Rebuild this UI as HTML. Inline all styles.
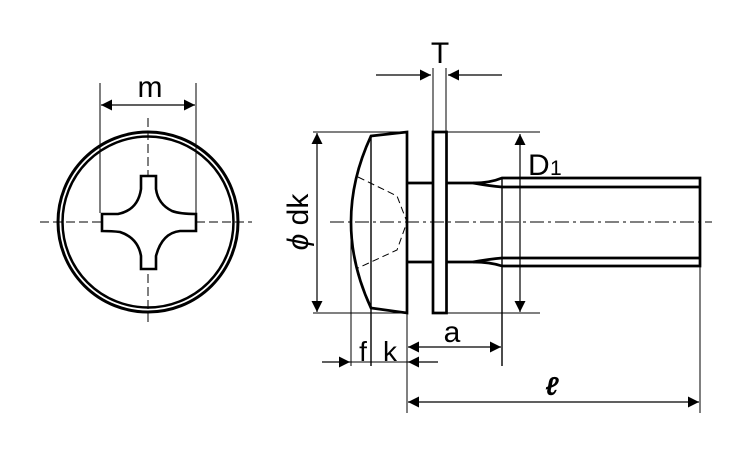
<!DOCTYPE html>
<html><head><meta charset="utf-8"><style>html,body{margin:0;padding:0;background:#fff}svg{display:block}</style></head>
<body>
<svg width="750" height="450" viewBox="0 0 750 450" xmlns="http://www.w3.org/2000/svg">
<defs>
<marker id="ah" viewBox="0 0 10 10" refX="10" refY="5" markerWidth="20" markerHeight="11" markerUnits="userSpaceOnUse" orient="auto-start-reverse"><path d="M0,0 L10,5 L0,10 z" fill="#000"/></marker>
</defs>
<g fill="none" stroke="#000">
<!-- left view -->
<circle cx="148" cy="222" r="90" stroke-width="3"/>
<circle cx="148" cy="222" r="85.5" stroke-width="2.5"/>
<line x1="40" y1="222" x2="252" y2="222" stroke-width="1" stroke-dasharray="9,4"/>
<line x1="148" y1="118" x2="148" y2="325" stroke-width="1" stroke-dasharray="9,4"/>
<path d="M141,176 H156 V189 Q158,204 172,211 Q180,214 196,214 V231 H180 Q162,233 156,256 V269 H141 V256 Q138,238 120,232 Q112,231 102,231 V214 H118 Q138,210 141,189 Z" stroke-width="2.6" fill="#fff"/>
<line x1="100" y1="83" x2="100" y2="213" stroke-width="1"/>
<line x1="196" y1="83" x2="196" y2="213" stroke-width="1"/>
<line x1="101" y1="105" x2="195" y2="105" stroke-width="1.2" marker-start="url(#ah)" marker-end="url(#ah)"/>
<!-- right view -->
<line x1="330" y1="222" x2="712" y2="222" stroke-width="1" stroke-dasharray="14,4,3,4"/>
<path d="M371,136 L407,132 V313 L371,308 Q331,222 371,136 Z" stroke-width="2.7"/>
<line x1="371" y1="136" x2="371" y2="366" stroke-width="1.4"/>
<line x1="351" y1="225" x2="351" y2="366" stroke-width="1"/>
<path d="M358,177 L397,196 L407,222 L397,250 L358,268" stroke-width="1" stroke-dasharray="7,4"/>
<path d="M407,183 H433 M407,262 H433" stroke-width="2.7"/>
<rect x="433" y="132" width="13.5" height="181" stroke-width="2.7"/>
<path d="M447,183 H473 Q490,183 502,178 H700 V266 H502 Q490,262 473,262 H447" stroke-width="2.7"/>
<path d="M473,183 Q490,186 502,187 H700 M473,262 Q490,259 502,258 H700" stroke-width="2.7"/>
<line x1="502" y1="178" x2="502" y2="366" stroke-width="1.4"/>
<line x1="700" y1="266" x2="700" y2="413" stroke-width="1"/>
<line x1="407" y1="313" x2="407" y2="413" stroke-width="1"/>
<!-- dk -->
<line x1="313" y1="132" x2="407" y2="132" stroke-width="1"/>
<line x1="313" y1="313" x2="407" y2="313" stroke-width="1"/>
<line x1="317" y1="133" x2="317" y2="312" stroke-width="1.2" marker-start="url(#ah)" marker-end="url(#ah)"/>
<!-- T -->
<line x1="433" y1="68" x2="433" y2="132" stroke-width="1"/>
<line x1="446" y1="68" x2="446" y2="132" stroke-width="1"/>
<line x1="376" y1="75" x2="431" y2="75" stroke-width="1.2" marker-end="url(#ah)"/>
<line x1="502" y1="75" x2="448" y2="75" stroke-width="1.2" marker-end="url(#ah)"/>
<!-- D1 -->
<line x1="446" y1="132" x2="540" y2="132" stroke-width="1"/>
<line x1="446" y1="313" x2="540" y2="313" stroke-width="1"/>
<line x1="520" y1="134" x2="520" y2="312" stroke-width="1.2" marker-start="url(#ah)" marker-end="url(#ah)"/>
<!-- f k -->
<line x1="322" y1="362" x2="350" y2="362" stroke-width="1.2" marker-end="url(#ah)"/>
<line x1="438" y1="362" x2="408" y2="362" stroke-width="1.2" marker-end="url(#ah)"/>
<line x1="350" y1="362" x2="408" y2="362" stroke-width="1"/>
<!-- a -->
<line x1="408" y1="347" x2="501" y2="347" stroke-width="1.2" marker-start="url(#ah)" marker-end="url(#ah)"/>
<!-- l -->
<line x1="408" y1="402" x2="699" y2="402" stroke-width="1.2" marker-start="url(#ah)" marker-end="url(#ah)"/>
</g>
<g font-family="Liberation Sans, sans-serif" fill="#000">
<text x="150" y="97" font-size="30" text-anchor="middle">m</text>
<text x="440" y="63" font-size="30" text-anchor="middle">T</text>
<text x="528" y="175" font-size="30">D</text><text x="550" y="175" font-size="21">1</text>
<text x="363" y="361" font-size="28" text-anchor="middle">f</text>
<text x="390" y="361" font-size="28" text-anchor="middle">k</text>
<text x="452" y="342" font-size="30" text-anchor="middle">a</text>
<text x="552" y="395" font-size="26" font-style="italic" font-weight="bold" text-anchor="middle">ℓ</text>
<text transform="translate(300,222) rotate(-90)" font-size="30" text-anchor="middle" dominant-baseline="middle"><tspan font-style="italic">ϕ</tspan> dk</text>
</g>
</svg>
</body></html>
